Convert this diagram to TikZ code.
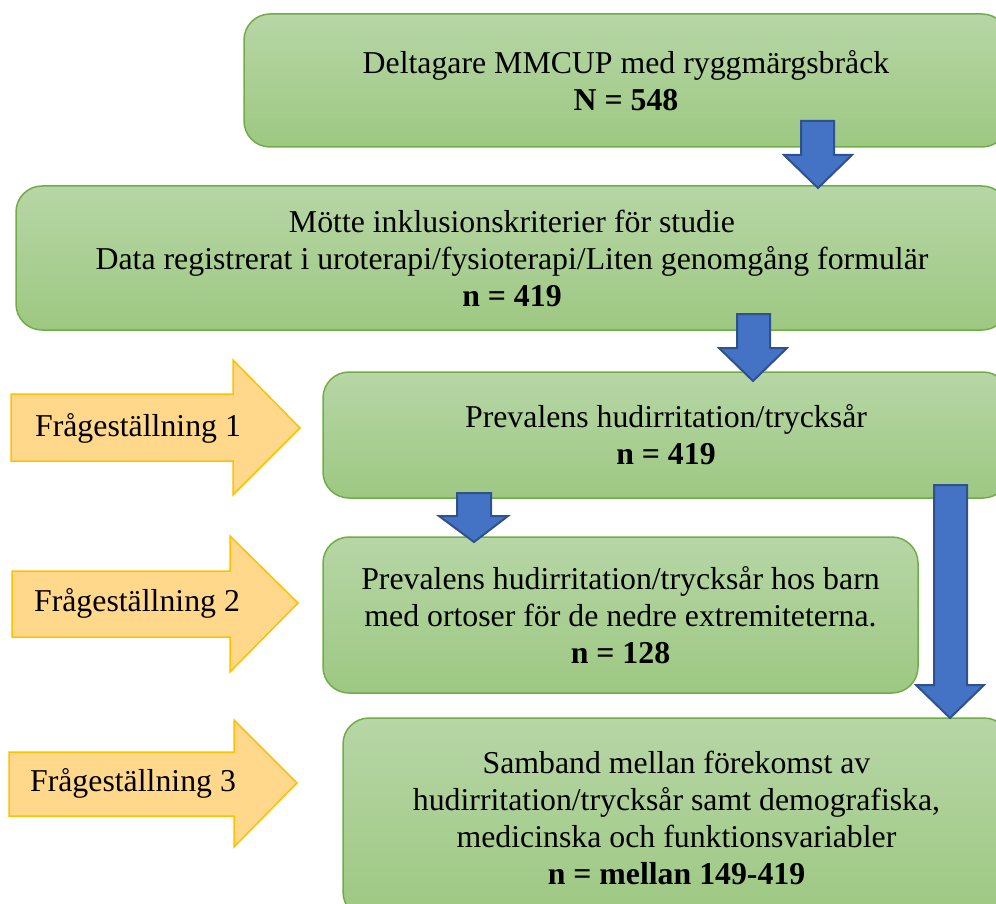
\documentclass[tikz,border=0pt]{standalone}
\usepackage{fontspec}
\setmainfont{Liberation Serif}
\usetikzlibrary{positioning}

\definecolor{boxtop}{RGB}{183,214,166}
\definecolor{boxbot}{RGB}{157,200,130}
\definecolor{boxline}{RGB}{112,173,71}
\definecolor{flowblue}{RGB}{68,114,196}
\definecolor{flowedge}{RGB}{47,82,143}
\definecolor{qfill}{RGB}{255,216,140}
\definecolor{qline}{RGB}{255,192,0}

\begin{document}
\begin{tikzpicture}[x=1pt,y=-1pt,
  stepbox/.style={draw=boxline,line width=1.5pt,rounded corners=26pt,top color=boxtop,bottom color=boxbot,inner sep=0pt,
    font=\fontsize{31.8}{37}\selectfont,align=center},
  bigtxt/.style={font=\fontsize{31.8}{37}\selectfont,align=center,inner sep=0pt},
  downarrow/.style={fill=flowblue,draw=flowedge,line width=2pt,line join=miter},
  qarrow/.style={fill=qfill,draw=qline,line width=1.5pt,line join=miter}]
\useasboundingbox (0,0) rectangle (996,904);

% flow boxes
\node[stepbox,minimum width=764pt,minimum height=133pt] (all) at (626,80.5)
  {Deltagare MMCUP med ryggmärgsbråck\\\textbf{N = 548}};
\node[stepbox,minimum width=992pt,minimum height=144pt] (incl) at (512,258)
  {Mötte inklusionskriterier för studie\\Data registrerat i uroterapi/fysioterapi/Liten genomgång formulär\\\textbf{n = 419}};
\node[stepbox,minimum width=686pt,minimum height=126pt] (prev) at (666,435)
  {Prevalens hudirritation/trycksår\\\textbf{n = 419}};
\node[stepbox,minimum width=595pt,minimum height=156pt] (orto) at (620.5,615)
  {Prevalens hudirritation/trycksår hos barn\\med ortoser för de nedre extremiteterna.\\\textbf{n = 128}};
\node[stepbox,minimum width=667pt,minimum height=200pt] (samb) at (676.5,818)
  {Samband mellan förekomst av\\hudirritation/trycksår samt demografiska,\\medicinska och funktionsvariabler\\\textbf{n = mellan 149-419}};

% blue block arrows
\draw[downarrow] (801,121) -- (801,155) -- (784,155) -- (818,188) -- (852,155) -- (834,155) -- (834,121) -- cycle;
\draw[downarrow] (737,314) -- (737,348) -- (719,348) -- (753,381) -- (787,348) -- (770,348) -- (770,314) -- cycle;
\draw[downarrow] (457,493) -- (457,516) -- (439,516) -- (474,542) -- (508,516) -- (491,516) -- (491,493) -- cycle;
\draw[downarrow] (934,485) -- (934,685) -- (916,685) -- (950,718) -- (984,685) -- (967,685) -- (967,485) -- cycle;

% question arrows
\draw[qarrow] (11,394) -- (233,394) -- (233,360) -- (300,428) -- (233,495) -- (233,461) -- (11,461) -- cycle;
\draw[qarrow] (12,571) -- (230,571) -- (230,536) -- (298,603) -- (230,672) -- (230,637) -- (12,637) -- cycle;
\draw[qarrow] (9,752) -- (234,752) -- (234,720) -- (297,783) -- (234,847) -- (234,816) -- (9,816) -- cycle;
\node[bigtxt] (q1) at (138,428) {Frågeställning 1};
\node[bigtxt] (q2) at (137,603) {Frågeställning 2};
\node[bigtxt] (q3) at (133,783) {Frågeställning 3};
\end{tikzpicture}
\end{document}
